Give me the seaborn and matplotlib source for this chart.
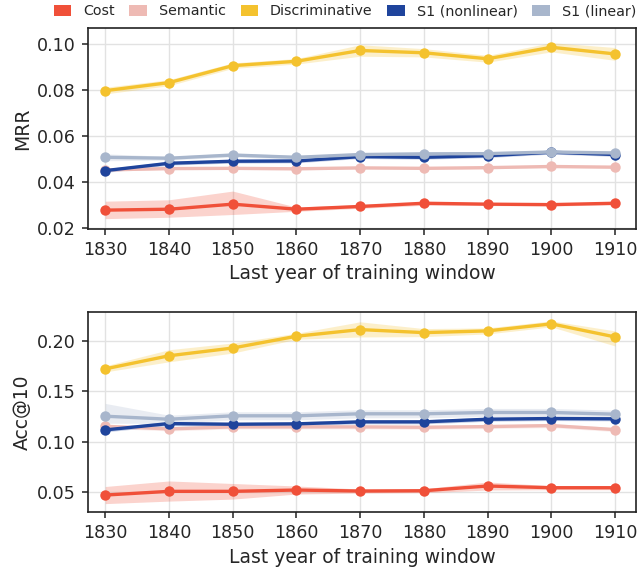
import numpy as np
import pandas as pd
import matplotlib
matplotlib.use("Agg")
import matplotlib.pyplot as plt
from matplotlib.patches import Patch
import seaborn as sns

years = [1830, 1840, 1850, 1860, 1870, 1880, 1890, 1900, 1910]
methods = ["Cost", "Semantic", "Discriminative", "S1 (nonlinear)", "S1 (linear)"]
colors = ["#F05039", "#EEBAB4", "#F4C22E", "#1F449C", "#A8B6CC"]

# MRR means
mrr_cost = [0.0277, 0.0281, 0.0303, 0.0281, 0.0293, 0.0307, 0.0303, 0.0301, 0.0307]
mrr_sem = [0.0452, 0.0458, 0.0459, 0.0457, 0.0461, 0.0459, 0.0462, 0.0467, 0.0464]
mrr_disc = [0.0797, 0.0832, 0.0906, 0.0925, 0.0972, 0.0962, 0.0936, 0.0986, 0.0957]
mrr_s1n = [0.0449, 0.0481, 0.0490, 0.0491, 0.0510, 0.0507, 0.0514, 0.0529, 0.0519]
mrr_s1l = [0.0507, 0.0503, 0.0517, 0.0507, 0.0519, 0.0522, 0.0523, 0.0530, 0.0526]
# MRR band lower / upper
mrr_cost_lo = [0.0240, 0.0246, 0.0258, 0.0272, 0.0285, 0.0298, 0.0297, 0.0295, 0.0300]
mrr_cost_hi = [0.0316, 0.0322, 0.0360, 0.0290, 0.0301, 0.0313, 0.0310, 0.0307, 0.0313]
mrr_sem_lo = [0.0447, 0.0453, 0.0454, 0.0452, 0.0456, 0.0454, 0.0457, 0.0462, 0.0459]
mrr_sem_hi = [0.0457, 0.0463, 0.0464, 0.0462, 0.0466, 0.0464, 0.0467, 0.0472, 0.0469]
mrr_disc_lo = [0.0783, 0.0819, 0.0894, 0.0913, 0.0947, 0.0944, 0.0921, 0.0966, 0.0929]
mrr_disc_hi = [0.0812, 0.0845, 0.0918, 0.0937, 0.0997, 0.0980, 0.0951, 0.1006, 0.0985]
mrr_s1n_lo = [0.0441, 0.0473, 0.0482, 0.0483, 0.0502, 0.0499, 0.0506, 0.0521, 0.0511]
mrr_s1n_hi = [0.0457, 0.0489, 0.0498, 0.0499, 0.0518, 0.0515, 0.0522, 0.0537, 0.0527]
mrr_s1l_lo = [0.0492, 0.0495, 0.0509, 0.0499, 0.0511, 0.0514, 0.0515, 0.0522, 0.0518]
mrr_s1l_hi = [0.0522, 0.0511, 0.0525, 0.0515, 0.0527, 0.0530, 0.0531, 0.0538, 0.0534]

# Acc@10 means
acc_cost = [0.0470, 0.0507, 0.0507, 0.0520, 0.0510, 0.0513, 0.0560, 0.0543, 0.0543]
acc_sem = [0.1153, 0.1127, 0.1147, 0.1147, 0.1147, 0.1143, 0.1150, 0.1160, 0.1120]
acc_disc = [0.1723, 0.1853, 0.1930, 0.2047, 0.2113, 0.2083, 0.2100, 0.2170, 0.2040]
acc_s1n = [0.1117, 0.1180, 0.1173, 0.1177, 0.1197, 0.1197, 0.1223, 0.1230, 0.1227]
acc_s1l = [0.1253, 0.1223, 0.1257, 0.1257, 0.1277, 0.1277, 0.1290, 0.1290, 0.1273]
acc_cost_lo = [0.0385, 0.0410, 0.0430, 0.0480, 0.0490, 0.0493, 0.0520, 0.0523, 0.0523]
acc_cost_hi = [0.0555, 0.0610, 0.0585, 0.0560, 0.0530, 0.0533, 0.0600, 0.0563, 0.0563]
acc_sem_lo = [0.1133, 0.1107, 0.1127, 0.1127, 0.1127, 0.1123, 0.1130, 0.1140, 0.1100]
acc_sem_hi = [0.1173, 0.1147, 0.1167, 0.1167, 0.1167, 0.1163, 0.1170, 0.1180, 0.1140]
acc_disc_lo = [0.1693, 0.1793, 0.1880, 0.2017, 0.2040, 0.2043, 0.2070, 0.2140, 0.1950]
acc_disc_hi = [0.1753, 0.1913, 0.1980, 0.2077, 0.2190, 0.2123, 0.2130, 0.2200, 0.2100]
acc_s1n_lo = [0.1097, 0.1160, 0.1153, 0.1157, 0.1177, 0.1177, 0.1203, 0.1210, 0.1207]
acc_s1n_hi = [0.1137, 0.1200, 0.1193, 0.1197, 0.1217, 0.1217, 0.1243, 0.1250, 0.1247]
acc_s1l_lo = [0.1183, 0.1183, 0.1217, 0.1217, 0.1237, 0.1237, 0.1250, 0.1250, 0.1233]
acc_s1l_hi = [0.1380, 0.1263, 0.1297, 0.1297, 0.1317, 0.1317, 0.1330, 0.1330, 0.1313]

mrr = [mrr_cost, mrr_sem, mrr_disc, mrr_s1n, mrr_s1l]
mrr_lo = [mrr_cost_lo, mrr_sem_lo, mrr_disc_lo, mrr_s1n_lo, mrr_s1l_lo]
mrr_hi = [mrr_cost_hi, mrr_sem_hi, mrr_disc_hi, mrr_s1n_hi, mrr_s1l_hi]
acc = [acc_cost, acc_sem, acc_disc, acc_s1n, acc_s1l]
acc_lo = [acc_cost_lo, acc_sem_lo, acc_disc_lo, acc_s1n_lo, acc_s1l_lo]
acc_hi = [acc_cost_hi, acc_sem_hi, acc_disc_hi, acc_s1n_hi, acc_s1l_hi]

sns.set_style("whitegrid", {"axes.edgecolor": "#222222", "grid.color": "#e2e2e2",
                            "xtick.bottom": True, "ytick.left": True})
plt.rcParams["font.family"] = ["DejaVu Sans"]

fig = plt.figure(figsize=(6.4, 5.71), dpi=100)
ax1 = fig.add_axes([0.1375, 0.599, 0.8565, 0.352])
ax2 = fig.add_axes([0.1375, 0.103, 0.8565, 0.351])

palette = dict(zip(methods, colors))

def draw(ax, means, los, his, ylabel, ylim, yticks):
    rows = []
    for m, vals in zip(methods, means):
        for y, v in zip(years, vals):
            rows.append({"year": y, "value": v, "method": m})
    df = pd.DataFrame(rows)
    for m, lo, hi in zip(methods, los, his):
        ax.fill_between(years, lo, hi, color=palette[m], alpha=0.25, linewidth=0)
    sns.lineplot(data=df, x="year", y="value", hue="method", hue_order=methods,
                 palette=palette, marker="o", markersize=7.5, markeredgewidth=0,
                 linewidth=2.4, ax=ax, legend=False, errorbar=None)
    ax.set_xlim(1827.3, 1913.3)
    ax.set_ylim(*ylim)
    ax.set_xticks(years)
    ax.set_yticks(yticks)
    ax.set_xlabel("Last year of training window", fontsize=13.5)
    ax.set_ylabel(ylabel, fontsize=13.5)
    ax.tick_params(axis="both", labelsize=12.6, length=4.5, width=1.1, color="#222222", pad=4)
    for s in ax.spines.values():
        s.set_linewidth(1.2)
    ax.grid(True, linewidth=1)

draw(ax1, mrr, mrr_lo, mrr_hi, "MRR", (0.0195, 0.107), [0.02, 0.04, 0.06, 0.08, 0.10])
ax1.yaxis.set_major_formatter(matplotlib.ticker.FormatStrFormatter("%.2f"))
draw(ax2, acc, acc_lo, acc_hi, "Acc@10", (0.030, 0.229), [0.05, 0.10, 0.15, 0.20])
ax2.yaxis.set_major_formatter(matplotlib.ticker.FormatStrFormatter("%.2f"))

handles = [Patch(facecolor=c, edgecolor="none") for c in colors]
fig.legend(handles, methods, loc="center right", bbox_to_anchor=(636 / 640, 0.980), ncol=5,
           frameon=False, fontsize=10.3, handlelength=1.23, handleheight=0.75,
           columnspacing=1.03, handletextpad=0.82, borderaxespad=0, borderpad=0)

fig.savefig("out.png", dpi=100)
